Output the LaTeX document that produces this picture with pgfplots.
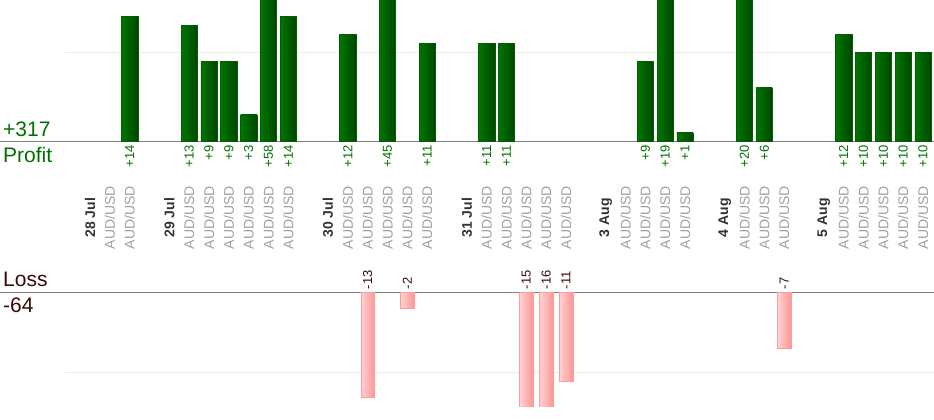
\documentclass[border=0pt]{standalone}
\usepackage{fontspec}
\setmainfont{Liberation Sans}
\usepackage{pgfplots}
\usepackage{pgfplotstable}
\pgfplotsset{compat=1.18}

\definecolor{gLeft}{RGB}{0,118,0}
\definecolor{gRight}{RGB}{0,70,0}
\definecolor{gBorder}{RGB}{0,96,0}
\definecolor{pLeft}{RGB}{255,210,210}
\definecolor{pRight}{RGB}{255,150,150}
\definecolor{pBorder}{RGB}{255,155,155}
\definecolor{profitText}{RGB}{0,112,0}
\definecolor{lossText}{RGB}{58,8,8}
\definecolor{baseGray}{RGB}{128,128,128}
\definecolor{gridGray}{RGB}{235,235,235}
\definecolor{dateGray}{RGB}{51,51,51}
\definecolor{audGray}{RGB}{160,160,160}

\newcommand\D[1]{\textcolor{dateGray}{\bfseries #1}}
\newcommand\A{AUD/USD}

\pgfplotstableread{
x y z lab
2 14 0 +14
5 13 0 +13
6 9 0 +9
7 9 0 +9
8 3 0 +3
9 58 0 +58
10 14 0 +14
13 12 0 +12
15 45 0 +45
17 11 0 +11
20 11 0 +11
21 11 0 +11
28 9 0 +9
29 19 0 +19
30 1 0 +1
33 20 0 +20
34 6 0 +6
38 12 0 +12
39 10 0 +10
40 10 0 +10
41 10 0 +10
42 10 0 +10
}\profit

\pgfplotstableread{
x y z lab
14 -13 0 -13
16 -2 0 -2
22 -15 0 -15
23 -16 0 -16
24 -11 0 -11
35 -7 0 -7
}\loss

\begin{document}
\begin{tikzpicture}
\path[use as bounding box] (0pt,0pt) rectangle (934pt,420pt);

\begin{axis}[
  at={(0pt,278.3pt)}, anchor=south west, scale only axis,
  width=934pt, height=141.7pt,
  xmin=-4.538, xmax=42.555, ymin=0, ymax=15.83,
  axis x line*=bottom, axis y line=none,
  x axis line style={-, draw=baseGray, line width=1.2pt},
  xtick={0,...,42},
  xticklabels={\D{28 Jul},\A,\A,,\D{29 Jul},\A,\A,\A,\A,\A,\A,,\D{30 Jul},\A,\A,\A,\A,\A,,\D{31 Jul},\A,\A,\A,\A,\A,,\D{3 Aug},\A,\A,\A,\A,,\D{4 Aug},\A,\A,\A,,\D{5 Aug},\A,\A,\A,\A,\A},
  major tick length=0pt,
  xticklabel style={yshift=-76pt, rotate=90, anchor=center, font=\fontsize{14}{16}\selectfont, text=audGray, inner sep=0pt},
  ytick=\empty,
  clip mode=individual,
]
\draw[gridGray, line width=1pt] (axis cs:-1.26,10) -- (axis cs:42.555,10);
\pgfplotsinvokeforeach{2,5,6,7,8,9,10,13,15,17,20,21,28,29,30,33,34,38,39,40,41,42}{
  \addplot[ybar, bar shift=0pt, bar width=16.3pt, draw=gBorder, left color=gLeft, right color=gRight,
    restrict x to domain=#1:#1] table[x=x,y=y]{\profit};
}
\addplot[only marks, mark=none, nodes near coords, point meta=explicit symbolic,
  nodes near coords align={anchor=east},
  every node near coord/.append style={yshift=-3.5pt, rotate=90, inner sep=0pt, font=\fontsize{13}{15}\selectfont, text=profitText}]
  table[x=x,y=z,meta=lab]{\profit};
\end{axis}

\begin{axis}[
  at={(0pt,13pt)}, anchor=south west, scale only axis,
  width=934pt, height=114.7pt,
  xmin=-4.538, xmax=42.555, ymin=-14.27, ymax=0,
  axis x line*=top, axis y line=none,
  x axis line style={-, draw=baseGray, line width=1.2pt},
  xtick=\empty, ytick=\empty,
  clip mode=individual,
]
\draw[gridGray, line width=1pt] (axis cs:-1.26,-10) -- (axis cs:42.555,-10);
\pgfplotsinvokeforeach{14,16,22,23,24,35}{
  \addplot[ybar, bar shift=0pt, bar width=13.5pt, draw=pBorder, left color=pLeft, right color=pRight,
    restrict x to domain=#1:#1] table[x=x,y=y]{\loss};
}
\addplot[only marks, mark=none, nodes near coords, point meta=explicit symbolic,
  nodes near coords align={anchor=west},
  every node near coord/.append style={yshift=3pt, rotate=90, inner sep=0pt, font=\fontsize{13}{15}\selectfont, text=lossText}]
  table[x=x,y=z,meta=lab]{\loss};
\end{axis}

\node[anchor=base west, inner sep=0pt, text=profitText, font=\fontsize{21}{24}\selectfont] at (3pt,283pt) {+317};
\node[anchor=base west, inner sep=0pt, text=profitText, font=\fontsize{21}{24}\selectfont] at (3pt,257pt) {Profit};
\node[anchor=base west, inner sep=0pt, text=lossText, font=\fontsize{21}{24}\selectfont] at (3pt,133pt) {Loss};
\node[anchor=base west, inner sep=0pt, text=lossText, font=\fontsize{21}{24}\selectfont] at (3pt,107pt) {-64};
\end{tikzpicture}
\end{document}
